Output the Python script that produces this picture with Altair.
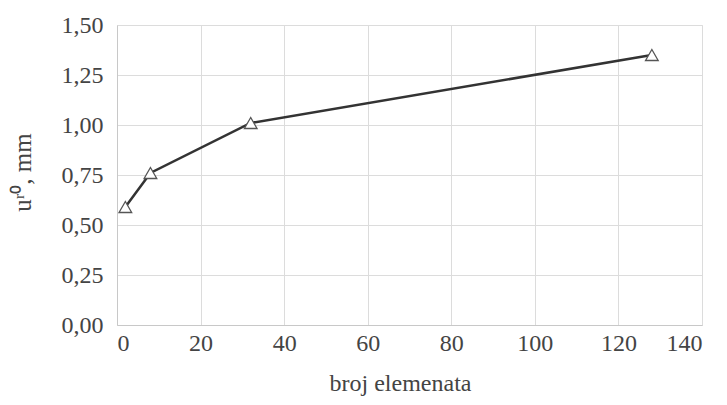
import altair as alt
import pandas as pd

elements = [2, 8, 32, 128]
u_r0 = [0.59, 0.76, 1.01, 1.35]
x_ticks = [0, 20, 40, 60, 80, 100, 120, 140]
y_ticks = [0.0, 0.25, 0.5, 0.75, 1.0, 1.25, 1.5]

df = pd.DataFrame({"n": elements, "u": u_r0})

FONT = "Liberation Serif"

x = alt.X("n:Q", scale=alt.Scale(domain=[0, 140], nice=False),
          axis=alt.Axis(values=x_ticks, title="broj elemenata", labelPadding=6,
                        titlePadding=16, labelColor="#444", labelFontSize=24,
                        labelFont=FONT, titleFont=FONT, titleFontSize=24,
                        titleColor="#444", titleFontWeight="normal",
                        titleX=283, titleAlign="center"))
y = alt.Y("u:Q", scale=alt.Scale(domain=[0, 1.5], nice=False),
          axis=alt.Axis(values=y_ticks, title="uʳ⁰, mm",
                        labelExpr="replace(format(datum.value, '.2f'), '.', ',')",
                        labelPadding=14, titlePadding=26, labelFont=FONT,
                        labelFontSize=24, labelColor="#444", titleFont=FONT,
                        titleFontSize=25, titleColor="#444", titleFontWeight="normal",
                        titleY=147))

base = alt.Chart(df).encode(x=x, y=y)
line = base.mark_line(color="#333333", strokeWidth=2.5)
pts = base.mark_point(shape="triangle-up", size=160, filled=True,
                      fill="white", stroke="#555555", strokeWidth=1.3, opacity=1)

chart = (line + pts).properties(
    width=585, height=300,
    autosize=alt.AutoSizeParams(type="none"),
    padding={"left": 109, "top": 17, "right": 17, "bottom": 72},
    background="white",
).configure_view(stroke="#e4e4e4").configure_axis(
    grid=True, gridColor="#dcdcdc", domainColor="#c8c8c8", ticks=False,
)

chart.save("out.html", embed_options={"renderer": "svg", "actions": False})
